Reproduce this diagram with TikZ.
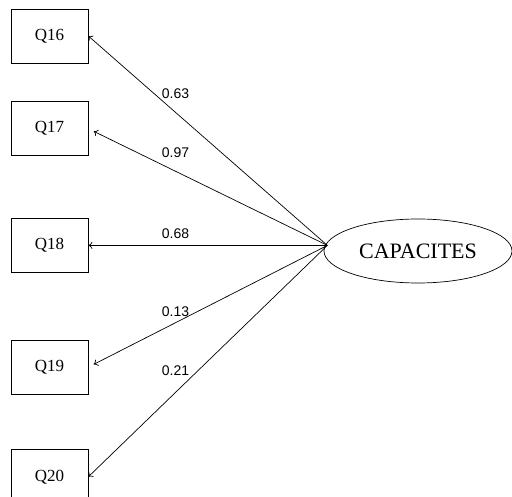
\documentclass[tikz,border=0pt]{standalone}
\usepackage{fontspec}
\setmainfont{Liberation Serif}
\newfontfamily\labelfont{Liberation Sans}
\usetikzlibrary{positioning,shapes.geometric,arrows.meta}

\begin{document}
\begin{tikzpicture}[x=1pt,y=-1pt,->,>={To[length=4pt,width=7pt]},line width=0.7pt,
	item node/.style={rectangle,draw,minimum width=77pt,minimum height=54pt,font=\fontsize{17}{20}\selectfont},
	factor node/.style={ellipse,draw,minimum width=188pt,minimum height=64pt,font=\fontsize{22}{26}\selectfont}]
	\useasboundingbox (0,0) rectangle (512,497);
	
	\node[item node] (Q16) at (49.5,36) {Q16};
	\node[item node] (Q17) [below=38pt of Q16] {Q17};
	\node[item node] (Q18) [below=62pt of Q17] {Q18};
	\node[item node] (Q19) [below=67pt of Q18] {Q19};
	\node[item node] (Q20) [below=55pt of Q19] {Q20};
	
	\node[factor node] (CAP) at (418,251) {CAPACITES};
	\path (Q18.east) ++(239,0) coordinate (src);
	
	\path[every node/.style={font=\labelfont\fontsize{14}{16}\selectfont,inner sep=1pt,pos=0.635}]
	(src) edge node [above=12.5pt] {0.63} (Q16.east)
	edge [shorten >=6pt] node [above=12pt] {0.97} (Q17.east)
	edge node [above=5pt] {0.68} (Q18.east)
	edge [shorten >=6pt] node [above=5pt] {0.13} (Q19.east)
	edge node [above=15pt] {0.21} (Q20.east)
	;
\end{tikzpicture}
\end{document}
